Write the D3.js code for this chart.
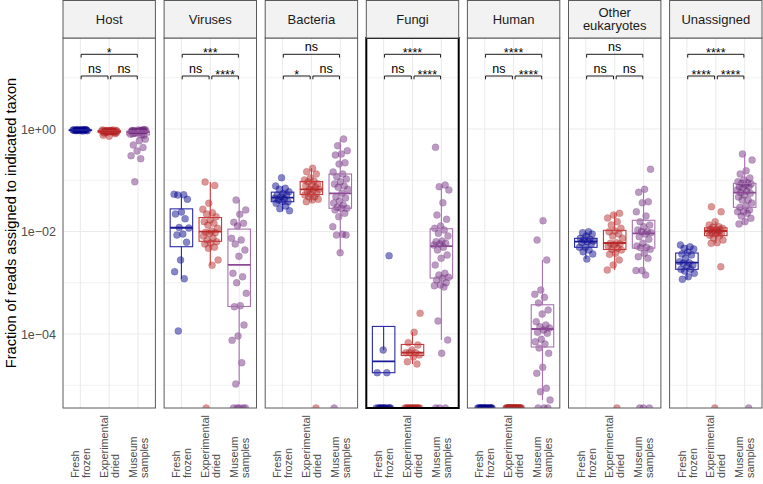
<!DOCTYPE html>
<html><head><meta charset="utf-8">
<script src="https://cdn.jsdelivr.net/npm/d3@7"></script>
<style>body{margin:0;background:#fff} text{font-family:"Liberation Sans",Arial,Helvetica,sans-serif}</style>
</head><body><svg id="c" width="763" height="484"></svg>
<script>
// ---------- data (values are log10 of the fraction of reads; zero-read samples counted separately) ----------
const taxa = ["Host","Viruses","Bacteria","Fungi","Human","Other\neukaryotes","Unassigned"];
const groups = ["Fresh frozen","Experimental dried","Museum samples"];
const groupLabelLines = [["Fresh","frozen"],["Experimental","dried"],["Museum","samples"]];

const hostFresh = [-0.01,-0.02,-0.015,-0.03,-0.02,-0.025,-0.01,-0.035,-0.02,-0.03,-0.015,-0.025,-0.02,-0.04,-0.03,-0.02];
const hostDried = [-0.02,-0.03,-0.04,-0.05,-0.03,-0.06,-0.04,-0.02,-0.05,-0.07,-0.03,-0.04,-0.08,-0.05,-0.06,-0.04,-0.03,-0.05,-0.09,-0.14,-0.12,-0.06,-0.04,-0.07,-0.03,-0.05];
const hostMuseum = [-0.01,-0.02,-0.03,-0.04,-0.05,-0.02,-0.03,-0.06,-0.04,-0.07,-0.05,-0.03,-0.08,-0.04,-0.06,-0.09,-0.02,-0.05,-0.1,-0.07,-0.03,-0.12,-0.06,-0.04,-0.11,-0.08,-0.2,-0.23,-0.31,-0.36,-0.43,-0.52,-0.58,-1.03,-0.05];

const virusesFresh = [-1.274,-1.282,-1.288,-1.372,-1.62,-1.659,-1.751,-1.922,-1.932,-2.049,-2.068,-2.21,-2.556,-2.784,-2.921,-3.941];
const virusesDried = [-1.034,-1.1,-1.45,-1.567,-1.633,-1.659,-1.711,-1.776,-1.809,-1.84,-1.873,-1.938,-1.99,-2.015,-2.023,-2.039,-2.088,-2.127,-2.166,-2.199,-2.224,-2.244,-2.308,-2.328,-2.556,-2.659];
const virusesMuseum = [-1.385,-1.58,-1.664,-1.82,-1.84,-1.893,-2.133,-2.166,-2.244,-2.361,-2.484,-2.816,-2.882,-2.999,-3.206,-3.448,-3.467,-3.824,-4.039,-4.123,-4.56,-4.976];

const bacteriaFresh = [-0.95,-1.112,-1.157,-1.177,-1.223,-1.259,-1.288,-1.288,-1.321,-1.353,-1.366,-1.385,-1.419,-1.419,-1.45,-1.502,-1.555,-1.594];
const bacteriaDried = [-0.767,-0.833,-0.878,-0.956,-0.995,-1.015,-1.034,-1.073,-1.093,-1.112,-1.138,-1.177,-1.177,-1.19,-1.223,-1.255,-1.268,-1.288,-1.321,-1.321,-1.372,-1.385,-1.419];
const bacteriaMuseum = [-0.195,-0.326,-0.423,-0.488,-0.507,-0.658,-0.683,-0.839,-0.878,-0.931,-0.976,-1.028,-1.073,-1.112,-1.138,-1.177,-1.255,-1.321,-1.346,-1.405,-1.444,-1.483,-1.528,-1.547,-1.547,-1.58,-1.645,-1.711,-1.906,-2.055,-2.068,-2.068,-2.414];

const fungiFresh = [-2.472,-4.312,-4.755,-4.755];
const fungiDried = [-3.596,-3.967,-4.17,-4.215,-4.312,-4.365,-4.365,-4.365,-4.41,-4.449,-4.54,-4.585];
const fungiMuseum = [-0.357,-1.093,-1.126,-1.19,-1.438,-1.678,-1.762,-1.893,-1.938,-1.971,-2.035,-2.088,-2.185,-2.199,-2.23,-2.244,-2.263,-2.308,-2.361,-2.459,-2.523,-2.654,-2.816,-2.849,-2.894,-2.913,-2.946,-2.999,-3.044,-3.058,-3.082,-3.746,-4.117,-4.377];

const humanFresh = [];
const humanDried = [];
const humanMuseum = [-1.789,-2.166,-2.556,-3.141,-3.225,-3.284,-3.395,-3.532,-3.61,-3.76,-3.824,-3.858,-3.883,-3.922,-3.967,-3.986,-4.103,-4.15,-4.195,-4.273,-4.377,-4.65,-4.767,-5.059,-5.126,-5.288];

const otherFresh = [-2.004,-2.023,-2.049,-2.088,-2.133,-2.152,-2.166,-2.185,-2.199,-2.215,-2.244,-2.308,-2.308,-2.361,-2.394,-2.439,-2.537];
const otherDried = [-1.645,-1.678,-1.737,-1.809,-1.873,-1.938,-1.99,-2.004,-2.049,-2.088,-2.133,-2.219,-2.23,-2.244,-2.263,-2.283,-2.328,-2.348,-2.361,-2.425,-2.445,-2.556,-2.654,-2.751];
const otherMuseum = [-0.786,-1.177,-1.235,-1.419,-1.438,-1.614,-1.698,-1.809,-1.873,-1.906,-1.971,-2.004,-2.004,-2.023,-2.049,-2.101,-2.152,-2.23,-2.283,-2.308,-2.316,-2.348,-2.425,-2.491,-2.523,-2.761,-2.761,-2.849];

const unassignedFresh = [-2.263,-2.297,-2.328,-2.341,-2.4,-2.439,-2.459,-2.523,-2.589,-2.609,-2.62,-2.654,-2.687,-2.738,-2.738,-2.771,-2.816,-2.882,-2.933];
const unassignedDried = [-1.516,-1.614,-1.809,-1.873,-1.906,-1.918,-1.938,-1.957,-1.957,-1.971,-1.98,-1.99,-2.004,-2.02,-2.035,-2.049,-2.074,-2.088,-2.127,-2.166,-2.219,-2.23,-2.687];
const unassignedMuseum = [-0.488,-0.605,-0.814,-0.878,-0.956,-0.995,-1.028,-1.048,-1.06,-1.073,-1.093,-1.126,-1.126,-1.151,-1.19,-1.21,-1.243,-1.255,-1.288,-1.327,-1.385,-1.385,-1.444,-1.502,-1.528,-1.58,-1.614,-1.614,-1.645,-1.698,-1.743,-1.809,-1.854];

// number of samples with zero reads (drawn at the bottom edge of the log axis)
const zeroFresh  = [0,0,0,11,16,0,0];
const zeroDried  = [0,1,1,13,25,1,1];
const zeroMuseum = [0,5,1,3,3,3,1];

// significance labels: top bracket (fresh vs museum), left (fresh vs dried), right (dried vs museum)
const sigTop   = ["*","***","ns","****","****","ns","****"];
const sigLeft  = ["ns","ns","*","ns","ns","ns","****"];
const sigRight = ["ns","****","ns","****","****","ns","****"];

const yTicks = [1, 1e-2, 1e-4];
const yTickLabels = ["1e+00","1e\u221202","1e\u221204"];
const yMinor = [10, 1e-1, 1e-3, 1e-5];
const yLimits = [3.6e-6, 59.7];

// ---------- assemble ----------
const series = [
  [hostFresh, hostDried, hostMuseum],
  [virusesFresh, virusesDried, virusesMuseum],
  [bacteriaFresh, bacteriaDried, bacteriaMuseum],
  [fungiFresh, fungiDried, fungiMuseum],
  [humanFresh, humanDried, humanMuseum],
  [otherFresh, otherDried, otherMuseum],
  [unassignedFresh, unassignedDried, unassignedMuseum]
];
const zeros = [zeroFresh, zeroDried, zeroMuseum];

const colors = ["#00008B", "#B22222", "#6E2A7E"];
const boxColors = ["#2A2AA8", "#C83A3A", "#A872AE"];
const medColors = ["#1A1A98", "#B82828", "#8C4A94"];

const plotLeft = 63, plotRight = 762, panelTop = 38, panelBottom = 408;
const svg = d3.select("#c");

const px = d3.scaleBand().domain(d3.range(taxa.length)).range([plotLeft, plotRight]).paddingInner(0.086).paddingOuter(0);
const bw = px.bandwidth();
const gx = d3.scalePoint().domain(groups).range([0, bw]).padding(0.6);
const y = d3.scaleLog().domain(yLimits).range([panelBottom, panelTop]);

// Y axis labels
svg.append("g").selectAll("text").data(yTicks).join("text")
  .attr("x", 56).attr("y", d => y(d)).attr("dy", "0.36em")
  .attr("text-anchor", "end").attr("font-size", 12.5).attr("fill", "#4D4D4D")
  .text((d, i) => yTickLabels[i]);

svg.append("text")
  .attr("transform", `translate(16,${(panelTop + panelBottom) / 2}) rotate(-90)`)
  .attr("text-anchor", "middle").attr("font-size", 14.6).attr("fill", "#000")
  .text("Fraction of reads assigned to indicated taxon");

const defs = svg.append("defs");

taxa.forEach((taxon, t) => {
  const x0 = px(t);
  const g = svg.append("g").attr("transform", `translate(${x0},0)`);
  defs.append("clipPath").attr("id", "clip" + t).append("rect")
    .attr("x", 0).attr("y", panelTop).attr("width", bw).attr("height", panelBottom - panelTop);

  // grid
  g.selectAll(".minor").data(yMinor).join("line")
    .attr("x1", 0).attr("x2", bw).attr("y1", d => y(d)).attr("y2", d => y(d))
    .attr("stroke", "#EFEFEF").attr("stroke-width", 0.8);
  g.selectAll(".major").data(yTicks).join("line")
    .attr("x1", 0).attr("x2", bw).attr("y1", d => y(d)).attr("y2", d => y(d))
    .attr("stroke", "#EBEBEB").attr("stroke-width", 1.1);
  g.selectAll(".vgrid").data(groups).join("line")
    .attr("x1", d => gx(d)).attr("x2", d => gx(d)).attr("y1", panelTop).attr("y2", panelBottom)
    .attr("stroke", "#EBEBEB").attr("stroke-width", 1.1);

  const clipG = g.append("g").attr("clip-path", `url(#clip${t})`);

  groups.forEach((grp, gi) => {
    const vals = series[t][gi];
    const nz = zeros[gi][t];
    const pts = vals.map(v => Math.pow(10, v)).concat(d3.range(nz).map(() => yLimits[0]));
    const cx = gx(grp);
    const seed = (t * 3 + gi) * 0.137;
    clipG.selectAll(null).data(pts).join("circle")
      .attr("cx", (d, i) => cx + ((((i + 1) * 0.6180339887 + seed) % 1) - 0.5) * 2 * 7.8)
      .attr("cy", d => y(d))
      .attr("r", 3.5)
      .attr("fill", colors[gi]).attr("fill-opacity", 0.47)
      .attr("stroke", colors[gi]).attr("stroke-opacity", 0.35).attr("stroke-width", 0.5);

    if (vals.length) {
      const s = vals.slice().sort(d3.ascending);
      const q1 = d3.quantile(s, 0.25), q2 = d3.quantile(s, 0.5), q3 = d3.quantile(s, 0.75);
      const iqr = q3 - q1;
      const lo = d3.min(s.filter(v => v >= q1 - 1.5 * iqr));
      const hi = d3.max(s.filter(v => v <= q3 + 1.5 * iqr));
      const p = v => y(Math.pow(10, v));
      const bwid = 22.5;
      const bg = clipG.append("g");
      bg.append("line").attr("x1", cx).attr("x2", cx).attr("y1", p(q3)).attr("y2", p(hi))
        .attr("stroke", boxColors[gi]).attr("stroke-width", 1.1);
      bg.append("line").attr("x1", cx).attr("x2", cx).attr("y1", p(q1)).attr("y2", p(lo))
        .attr("stroke", boxColors[gi]).attr("stroke-width", 1.1);
      bg.append("rect").attr("x", cx - bwid / 2).attr("width", bwid)
        .attr("y", p(q3)).attr("height", Math.max(0.5, p(q1) - p(q3)))
        .attr("fill", "none").attr("stroke", boxColors[gi]).attr("stroke-width", 1.1);
      bg.append("line").attr("x1", cx - bwid / 2).attr("x2", cx + bwid / 2).attr("y1", p(q2)).attr("y2", p(q2))
        .attr("stroke", medColors[gi]).attr("stroke-width", 1.8);
    }
  });

  // panel border
  const isFungi = taxon === "Fungi";
  g.append("rect").attr("x", 0).attr("y", panelTop).attr("width", bw).attr("height", panelBottom - panelTop)
    .attr("fill", "none").attr("stroke", isFungi ? "#000" : "#5A5A5A").attr("stroke-width", isFungi ? 2 : 1);

  // strip
  g.append("rect").attr("x", 0).attr("y", 0.5).attr("width", bw).attr("height", panelTop - 0.5)
    .attr("fill", "#F2F2F2").attr("stroke", "#5A5A5A").attr("stroke-width", 1);
  const lines = taxon.split("\n");
  const st = g.append("text").attr("text-anchor", "middle").attr("font-size", 13).attr("fill", "#1A1A1A");
  lines.forEach((ln, li) => {
    st.append("tspan").attr("x", bw / 2)
      .attr("y", 19 + (li - (lines.length - 1) / 2) * 13.6).attr("dy", "0.36em").text(ln);
  });

  // significance brackets
  const topY = 54.3, lowY = 76, tip = 3.3;
  const c1 = gx(groups[0]), c2 = gx(groups[1]), c3 = gx(groups[2]);
  const brackets = [
    {a: c1 + 0.8, b: c3 - 0.8, yy: topY, lab: sigTop[t]},
    {a: c1 + 0.8, b: c2 - 1.2, yy: lowY, lab: sigLeft[t]},
    {a: c2 + 1.5, b: c3 - 0.8, yy: lowY, lab: sigRight[t]}
  ];
  brackets.forEach(br => {
    g.append("path")
      .attr("d", `M${br.a},${br.yy + tip}V${br.yy}H${br.b}V${br.yy + tip}`)
      .attr("fill", "none").attr("stroke", "#000").attr("stroke-width", 0.9);
    const isStar = br.lab.indexOf("*") >= 0;
    g.append("text").attr("x", (br.a + br.b) / 2)
      .attr("y", isStar ? br.yy + 2.5 : br.yy - 3)
      .attr("text-anchor", "middle").attr("font-size", 12.5).attr("fill", "#000")
      .text(br.lab);
  });

  // x labels
  groups.forEach((grp, gi) => {
    const cx = gx(grp);
    groupLabelLines[gi].forEach((ln, li) => {
      const bx = cx + (li === 0 ? -1.3 : 9.7);
      g.append("text")
        .attr("transform", `translate(${bx},478) rotate(-90)`)
        .attr("text-anchor", "start").attr("font-size", 10.8).attr("fill", "#4D4D4D")
        .text(ln);
    });
  });
});
</script>
</body></html>
